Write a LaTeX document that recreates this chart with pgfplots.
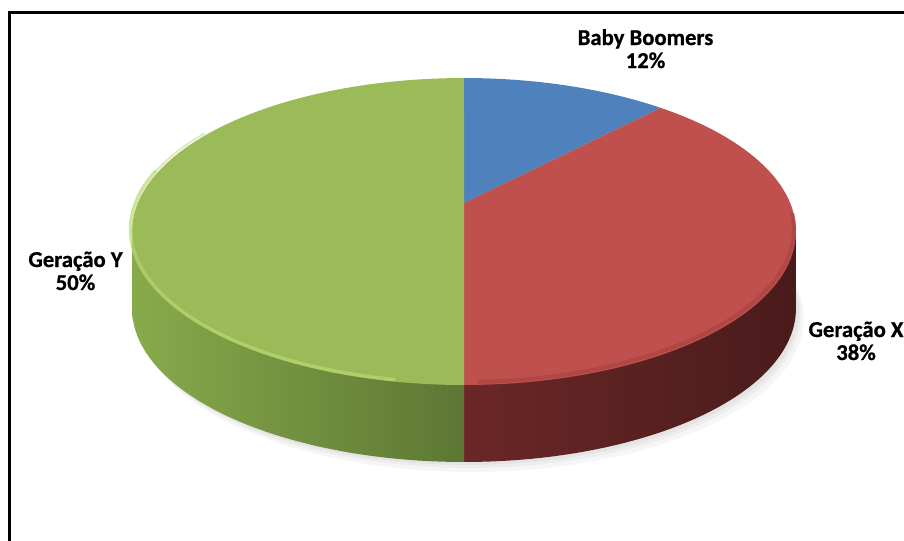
\documentclass[border=0pt]{standalone}
\usepackage{pgfplots}
\pgfplotsset{compat=1.18}
\usepackage{pgfplotstable}
\usepackage{fontspec}
\setmainfont{Carlito}[BoldFeatures={FakeBold=0.8}]
\definecolor{cBlue}{HTML}{4F81BD}
\definecolor{cRed}{HTML}{C0504D}
\definecolor{cGreen}{HTML}{9BBB59}
\definecolor{cRedL}{HTML}{6B2727}
\definecolor{cRedR}{HTML}{4A1B1B}
\definecolor{cGreenL}{HTML}{88AA4B}
\definecolor{cGreenR}{HTML}{5C7734}
\definecolor{cGreenHL}{HTML}{B8D874}
\definecolor{cRedSh}{HTML}{9E3D3B}
% perspective projection of the pie disc (pixels, y downwards)
\def\cx{464}\def\cy{203}\def\RA{326.2}\def\RB{148.2}\def\kk{0.1857}\def\D{77}
\def\PX#1{\cx+\RA*sin(#1)/(1+\kk*cos(#1))}
\def\PY#1{\cy-\RB*cos(#1)/(1+\kk*cos(#1))}
\begin{document}%
\begin{tikzpicture}
\pgfplotstableread{
label value
Baby_Boomers 12
Geracao_X 38
Geracao_Y 50
}\piedata
\pgfplotstablegetelem{0}{value}\of\piedata\let\vA\pgfplotsretval
\pgfplotstablegetelem{1}{value}\of\piedata\let\vB\pgfplotsretval
\pgfplotstablegetelem{2}{value}\of\piedata\let\vC\pgfplotsretval
\pgfmathsetmacro\aA{3.6*\vA}
\pgfmathsetmacro\aB{3.6*(\vA+\vB)}
\pgfmathsetmacro\aC{3.6*(\vA+\vB+\vC)}
\pgfmathsetmacro\thR{acos(-\kk)}
\pgfmathsetmacro\thL{360-\thR}
\pgfmathsetmacro\xR{\PX{\thR}}
\pgfmathsetmacro\yR{\PY{\thR}}
\pgfmathsetmacro\xL{\PX{\thL}}
\pgfmathsetmacro\yL{\PY{\thL}}
\begin{axis}[scale only axis, width=678pt, height=405pt, at={(0,0)}, anchor=south west,
  xmin=0, xmax=904, ymin=0, ymax=540, y dir=reverse,
  hide axis, clip=false]
% soft shadow
\addplot[draw=none, fill=black, fill opacity=0.035, domain=0:360, samples=90]
  ({\PX{x}+8},{\PY{x}+\D+10}) -- cycle;
\addplot[draw=none, fill=black, fill opacity=0.035, domain=0:360, samples=90]
  ({\PX{x}+5},{\PY{x}+\D+6}) -- cycle;
\addplot[draw=none, fill=black, fill opacity=0.04, domain=0:360, samples=90]
  ({\PX{x}+3},{\PY{x}+\D+3}) -- cycle;
% red side
\addplot[draw=none, left color=cRedL, right color=cRedR, domain=\thR:\aB, samples=50]
  ({\PX{x}},{\PY{x}+\D}) -- (axis cs:\cx,\cy) -- (axis cs:\xR,\yR) -- cycle;
% green side
\addplot[draw=none, left color=cGreenL, right color=cGreenR, domain=\aB:\thL, samples=50]
  ({\PX{x}},{\PY{x}+\D}) -- (axis cs:\xL,\yL) -- (axis cs:\cx,\cy) -- cycle;
% top faces
\addplot[draw=none, fill=cBlue, domain=0:\aA, samples=30]
  ({\PX{x}},{\PY{x}}) -- (axis cs:\cx,\cy) -- cycle;
\addplot[draw=none, fill=cRed, domain=\aA:\aB, samples=80]
  ({\PX{x}},{\PY{x}}) -- (axis cs:\cx,\cy) -- cycle;
\addplot[draw=none, fill=cGreen, domain=\aB:\aC, samples=120]
  ({\PX{x}},{\PY{x}}) -- (axis cs:\cx,\cy) -- cycle;
% bevel hints
\addplot[draw=cGreenHL, line width=2.6pt, opacity=0.7, domain=190:282, samples=60, line cap=round]
  ({\PX{x}+1.5*sin(x)},{\PY{x}-2});
\addplot[draw=cGreenHL, line width=1.5pt, opacity=0.5, domain=282:300, samples=20, line cap=round]
  ({\PX{x}+1.5*sin(x)},{\PY{x}-1.5});
\addplot[draw=cRedSh, line width=3pt, opacity=0.45, domain=95:178, samples=60]
  ({\PX{x}-2*sin(x)},{\PY{x}-3});
% frame
\draw[line width=2pt] (axis cs:9.5,545) -- (axis cs:9.5,12.5) -- (axis cs:910,12.5);
% labels
\begin{scope}[every node/.style={font=\bfseries\fontsize{17}{20}\selectfont, anchor=base, inner sep=0pt}]
\node at (axis cs:645.5,45) {Baby Boomers};
\node at (axis cs:645.5,68) {12\%};
\node at (axis cs:75.5,267) {Geração Y};
\node at (axis cs:75.5,290) {50\%};
\node at (axis cs:856,337) {Geração X};
\node at (axis cs:856,360) {38\%};
\end{scope}
\end{axis}
\pgfresetboundingbox
\path[use as bounding box] (0,0) rectangle (678pt,405pt);
\end{tikzpicture}%
\end{document}
